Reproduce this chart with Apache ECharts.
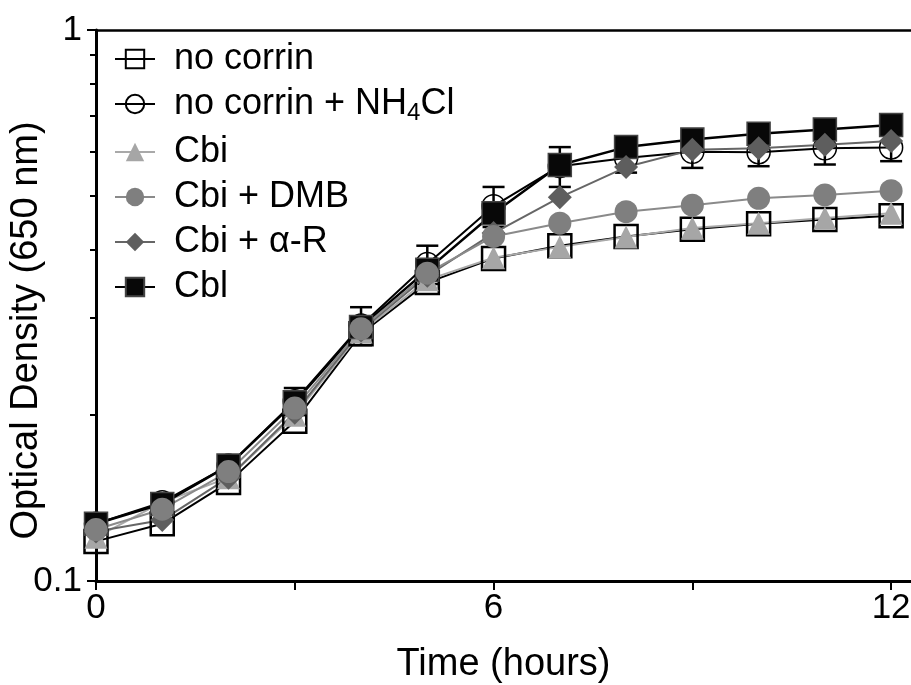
<!DOCTYPE html>
<html>
<head>
<meta charset="utf-8">
<script src="https://cdn.jsdelivr.net/npm/echarts@6/dist/echarts.min.js"></script>
<style>
  html, body { margin: 0; padding: 0; background: #fff; }
  #chart { width: 911px; height: 685px; }
</style>
</head>
<body>
<div id="chart"></div>
<script>
// time points (hours)
const hours = [0, 1, 2, 3, 4, 5, 6, 7, 8, 9, 10, 11, 12]
// optical density (650 nm)
const noCorrin      = [0.118, 0.127, 0.151, 0.195, 0.281, 0.348, 0.385, 0.406, 0.422, 0.435, 0.445, 0.453, 0.460]
const noCorrinNH4Cl = [0.127, 0.139, 0.162, 0.212, 0.291, 0.376, 0.479, 0.566, 0.586, 0.601, 0.600, 0.610, 0.612]
const nh4clErr      = [0.004, 0.005, 0.006, 0.012, 0.023, 0.030, 0.040, 0.047, 0.035, 0.039, 0.034, 0.040, 0.034]
const cbi           = [0.120, 0.139, 0.154, 0.200, 0.283, 0.352, 0.386, 0.404, 0.421, 0.437, 0.446, 0.456, 0.465]
const cbiDMB        = [0.124, 0.135, 0.158, 0.206, 0.287, 0.362, 0.422, 0.446, 0.468, 0.481, 0.495, 0.502, 0.511]
const cbiAlphaR     = [0.123, 0.129, 0.154, 0.202, 0.285, 0.358, 0.428, 0.497, 0.564, 0.606, 0.610, 0.619, 0.629]
const cbl           = [0.127, 0.138, 0.162, 0.211, 0.289, 0.367, 0.465, 0.569, 0.613, 0.633, 0.648, 0.660, 0.672]
// axis ticks
const xTicks = [0, 3, 6, 9, 12]
const xLabels = [0, 6, 12]
const yMinorTicks = [0.2, 0.3, 0.4, 0.5, 0.6, 0.7, 0.8, 0.9]

const names = ['no corrin', 'no corrin + NH4Cl', 'Cbi', 'Cbi + DMB', 'Cbi + α-R', 'Cbl']
const pair = (ys) => hours.map((h, i) => [h, ys[i]])
const FONT = 'Liberation Sans, Arial, sans-serif'

const chart = echarts.init(document.getElementById('chart'))

const option = {
  animation: false,
  backgroundColor: '#fff',
  grid: { left: 96, top: 30, right: 0, bottom: 104, containLabel: false, outerBoundsMode: 'none' },
  legend: {
    data: names,
    orient: 'vertical',
    left: 109,
    top: 36,
    itemWidth: 40,
    itemHeight: 23,
    itemGap: 9,
    textStyle: {
      fontFamily: FONT, fontSize: 36, color: '#000', lineHeight: 34, padding: [0, 0, 0, 14],
      rich: { sub: { fontFamily: FONT, fontSize: 24, padding: [18, 0, 0, 0], color: '#000' } }
    },
    formatter: (n) => n === 'no corrin + NH4Cl' ? 'no corrin + NH{sub|4}Cl' : n
  },
  xAxis: [
    {
      type: 'value', min: 0, max: 12.3, interval: 3,
      axisLine: { show: true, onZero: false, lineStyle: { color: '#000', width: 3 } },
      axisTick: { show: true, customValues: xTicks, length: 9, lineStyle: { color: '#000', width: 2 } },
      axisLabel: { customValues: xLabels, fontFamily: FONT, fontSize: 35, color: '#000', margin: 10 },
      splitLine: { show: false },
      name: 'Time (hours)', nameLocation: 'middle', nameGap: 65,
      nameTextStyle: { fontFamily: FONT, fontSize: 38, color: '#000' }
    },
    {
      type: 'value', position: 'top', min: 0, max: 12.3,
      axisLine: { show: true, onZero: false, lineStyle: { color: '#000', width: 2.5 } },
      axisTick: { show: false }, axisLabel: { show: false }, splitLine: { show: false }
    }
  ],
  yAxis: [
    {
      type: 'log', logBase: 10, min: 0.1, max: 1,
      axisLine: { show: true, onZero: false, lineStyle: { color: '#000', width: 3 } },
      axisTick: { show: true, length: 9, lineStyle: { color: '#000', width: 2 } },
      axisLabel: { fontFamily: FONT, fontSize: 35, color: '#000', margin: 14 },
      splitLine: { show: false },
      name: 'Optical Density (650 nm)', nameLocation: 'middle', nameGap: 50, nameRotate: 90,
      nameMoveOverlap: false,
      nameTextStyle: { fontFamily: FONT, fontSize: 38, color: '#000', padding: [0, 50, 0, 0] }
    },
    {
      type: 'log', logBase: 10, min: 0.1, max: 1, position: 'left',
      axisLine: { show: false },
      axisTick: { show: true, customValues: yMinorTicks, length: 6, lineStyle: { color: '#000', width: 2 } },
      axisLabel: { show: false }, splitLine: { show: false }
    }
  ],
  series: [
    {
      name: 'no corrin', type: 'line', data: pair(noCorrin),
      symbol: 'rect', symbolSize: 23,
      lineStyle: { color: '#000', width: 2 },
      itemStyle: { color: 'rgba(255,255,255,0)', borderColor: '#000', borderWidth: 2.5 }
    },
    {
      name: 'no corrin + NH4Cl', type: 'line', data: pair(noCorrinNH4Cl),
      symbol: 'circle', symbolSize: 23,
      lineStyle: { color: '#000', width: 2 },
      itemStyle: { color: 'rgba(255,255,255,0)', borderColor: '#000', borderWidth: 1.5 }
    },
    {
      name: 'NH4Cl error', type: 'custom',
      data: hours.map((h, i) => [h, noCorrinNH4Cl[i] - nh4clErr[i], noCorrinNH4Cl[i] + nh4clErr[i]]),
      renderItem: (params, api) => {
        const lo = api.coord([api.value(0), api.value(1)])
        const hi = api.coord([api.value(0), api.value(2)])
        const w = 11
        const st = { stroke: '#000', lineWidth: 2.5 }
        return {
          type: 'group',
          children: [
            { type: 'line', shape: { x1: lo[0], y1: lo[1], x2: hi[0], y2: hi[1] }, style: st },
            { type: 'line', shape: { x1: lo[0] - w, y1: lo[1], x2: lo[0] + w, y2: lo[1] }, style: st },
            { type: 'line', shape: { x1: hi[0] - w, y1: hi[1], x2: hi[0] + w, y2: hi[1] }, style: st }
          ]
        }
      }
    },
    {
      name: 'Cbi', type: 'line', data: pair(cbi),
      symbol: 'triangle', symbolSize: 23,
      lineStyle: { color: '#a9a9a9', width: 2 },
      itemStyle: { color: '#a6a6a6' }
    },
    {
      name: 'Cbl', type: 'line', data: pair(cbl),
      symbol: 'rect', symbolSize: 23,
      lineStyle: { color: '#000', width: 2.5 },
      itemStyle: { color: '#080808', borderColor: '#444', borderWidth: 1.5 }
    },
    {
      name: 'Cbi + α-R', type: 'line', data: pair(cbiAlphaR),
      symbol: 'diamond', symbolSize: 24,
      lineStyle: { color: '#666', width: 2 },
      itemStyle: { color: '#5e5e5e' }
    },
    {
      name: 'Cbi + DMB', type: 'line', data: pair(cbiDMB),
      symbol: 'circle', symbolSize: 23,
      lineStyle: { color: '#8a8a8a', width: 2 },
      itemStyle: { color: '#7f7f7f' }
    }
  ]
}

chart.setOption(option)
</script>
</body>
</html>
